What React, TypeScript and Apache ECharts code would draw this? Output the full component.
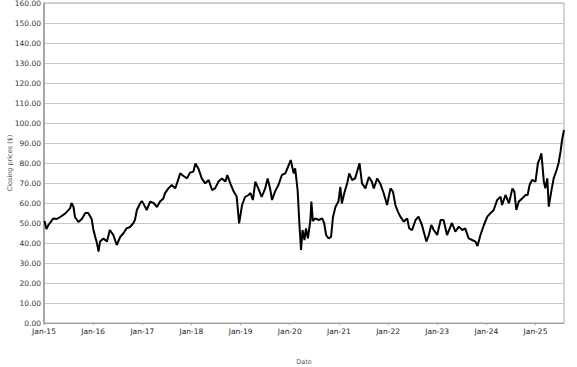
import React, { useEffect, useRef } from "react";
import * as echarts from "echarts";

// decimal year of each sample
const years: number[] = [
  2015.01, 2015.05, 2015.09, 2015.19, 2015.26, 2015.33, 2015.43, 2015.53, 2015.56, 2015.6,
  2015.63, 2015.7, 2015.77, 2015.84, 2015.9, 2015.97, 2016.0, 2016.04, 2016.07, 2016.11,
  2016.14, 2016.21, 2016.28, 2016.34, 2016.41, 2016.48, 2016.55, 2016.62, 2016.68, 2016.75,
  2016.82, 2016.85, 2016.89, 2016.96, 2016.99, 2017.02, 2017.09, 2017.16, 2017.23, 2017.3,
  2017.36, 2017.43, 2017.46, 2017.53, 2017.6, 2017.67, 2017.74, 2017.77, 2017.84, 2017.91,
  2017.97, 2018.04, 2018.08, 2018.14, 2018.21, 2018.28, 2018.35, 2018.42, 2018.48, 2018.55,
  2018.62, 2018.69, 2018.73, 2018.79, 2018.86, 2018.92, 2018.97, 2019.03, 2019.09, 2019.16,
  2019.2, 2019.25, 2019.3, 2019.36, 2019.43, 2019.5, 2019.55, 2019.6, 2019.64, 2019.7,
  2019.77, 2019.84, 2019.91, 2019.98, 2020.02, 2020.08, 2020.11, 2020.16, 2020.2, 2020.23,
  2020.26, 2020.3, 2020.33, 2020.37, 2020.42, 2020.44, 2020.47, 2020.52, 2020.59, 2020.66,
  2020.7, 2020.74, 2020.79, 2020.84, 2020.88, 2020.93, 2020.99, 2021.03, 2021.06, 2021.11,
  2021.17, 2021.21, 2021.27, 2021.33, 2021.38, 2021.42, 2021.47, 2021.54, 2021.61, 2021.67,
  2021.71, 2021.78, 2021.84, 2021.91, 2021.98, 2022.05, 2022.1, 2022.15, 2022.2, 2022.25,
  2022.32, 2022.39, 2022.43, 2022.49, 2022.56, 2022.62, 2022.69, 2022.78, 2022.83, 2022.88,
  2022.93, 2023.0, 2023.07, 2023.13, 2023.2, 2023.27, 2023.3, 2023.37, 2023.44, 2023.51,
  2023.57, 2023.64, 2023.71, 2023.78, 2023.82, 2023.88, 2023.95, 2024.02, 2024.08, 2024.15,
  2024.22, 2024.29, 2024.32, 2024.39, 2024.46, 2024.53, 2024.57, 2024.61, 2024.66, 2024.73,
  2024.8, 2024.84, 2024.88, 2024.93, 2025.0, 2025.05, 2025.09, 2025.12, 2025.17, 2025.2,
  2025.24, 2025.27, 2025.32, 2025.37, 2025.43, 2025.47, 2025.51, 2025.54, 2025.58,
];

// closing prices ($)
const prices: number[] = [
  51, 47, 49, 52.3, 52, 53, 54.7, 57.3, 60, 58,
  53, 50.5, 52, 55, 55, 52, 47.3, 43.2, 40.7, 35.7,
  40.7, 42.3, 40.7, 46.5, 44, 39, 43, 45, 47.3, 48,
  50, 51.5, 56.5, 60, 61, 59.8, 56.5, 60.7, 60, 58,
  60.7, 62.3, 64.8, 67.3, 69, 67.3, 72.3, 74.8, 73.5, 72.3,
  75.2, 75.7, 79.8, 77.3, 72.3, 69.8, 71.5, 66.5, 67.3, 70.7,
  72.3, 70.7, 74, 69.8, 65.7, 63.2, 49.8, 59, 63, 64,
  65, 61.5, 70.7, 67.3, 63, 67.3, 72.3, 67.3, 61.5, 65.7,
  69, 74, 74.8, 79, 81.5, 74.8, 77.3, 66.5, 48, 36.5,
  46.5, 41.5, 47.3, 42.3, 51.5, 60.7, 51, 52.3, 51.5, 52.3,
  50, 44, 42.3, 43, 53, 58, 60.7, 68, 59.8, 65,
  70, 74.8, 71.5, 72.3, 76.5, 79.8, 69.8, 67.3, 73, 70.7,
  67.3, 72.3, 69.8, 65, 59, 67.3, 65.7, 59, 55.7, 53.2,
  50.7, 52.3, 47.3, 46.5, 51.5, 53.2, 49, 40.7, 44, 49,
  46.5, 44, 51.5, 51.5, 44, 48.2, 50, 45.7, 48.2, 46.5,
  47.3, 42.3, 41.5, 40.7, 38.5, 44, 49, 53.2, 54.8, 56.5,
  61.5, 63.2, 59, 64, 59.8, 67.3, 65.7, 56.5, 60.7, 62.3,
  64, 64, 69, 71.5, 70.7, 80, 82.3, 84.8, 70.7, 67.3,
  72.3, 58.2, 65.7, 72.3, 76.5, 80, 85.8, 91.5, 96.5,
];

const X_MIN = 2015;
const X_MAX = 2025.58;
const Y_MIN = 0;
const Y_MAX = 160;
const Y_STEP = 10;

export default function App() {
  const ref = useRef<HTMLDivElement>(null);
  useEffect(() => {
    document.body.style.margin = "0";
    if (!ref.current) return;
    const chart = echarts.init(ref.current, undefined, { renderer: "svg" });
    const font = "DejaVu Sans";
    chart.setOption({
      animation: false,
      backgroundColor: "#ffffff",
      grid: {
        left: 44,
        right: 13,
        top: 3,
        bottom: 44,
        containLabel: false,
        outerBoundsMode: "none",
        show: true,
        borderColor: "#a8a8a8",
        borderWidth: 1,
      },
      xAxis: {
        type: "value",
        min: X_MIN,
        max: X_MAX,
        interval: 1,
        name: "Date",
        nameLocation: "middle",
        nameGap: 35,
        nameMoveOverlap: false,
        nameTextStyle: { fontFamily: font, fontSize: 6.5, color: "#555" },
        axisLine: { show: true, lineStyle: { color: "#a0a0a0", width: 1 } },
        axisTick: { show: true, length: 2, lineStyle: { color: "#a0a0a0" } },
        splitLine: { show: false },
        axisLabel: {
          fontFamily: font,
          fontSize: 7.5,
          color: "#222",
          margin: 4,
          showMaxLabel: false,
          formatter: (v: number) => {
            if (Math.abs(v - Math.round(v)) > 1e-6) return "";
            return "Jan-" + String(Math.round(v) % 100).padStart(2, "0");
          },
        },
      },
      yAxis: {
        type: "value",
        min: Y_MIN,
        max: Y_MAX,
        interval: Y_STEP,
        name: "Closing prices ($)",
        nameLocation: "middle",
        nameGap: 31,
        nameMoveOverlap: false,
        nameTextStyle: { fontFamily: font, fontSize: 6.5, color: "#555" },
        axisLine: { show: true, lineStyle: { color: "#999", width: 1.5 } },
        axisTick: { show: false },
        splitLine: { show: true, lineStyle: { color: "#c8c8c8", width: 1 } },
        axisLabel: {
          fontFamily: font,
          fontSize: 7.5,
          color: "#333",
          margin: 3,
          formatter: (v: number) => v.toFixed(2),
        },
      },
      series: [
        {
          type: "line",
          data: years.map((y, i) => [y, prices[i]]),
          showSymbol: false,
          symbol: "none",
          lineStyle: { color: "#000", width: 2 },
          clip: true,
        },
      ],
    });
    return () => chart.dispose();
  }, []);
  return <div ref={ref} style={{ width: 577, height: 367 }} />;
}
